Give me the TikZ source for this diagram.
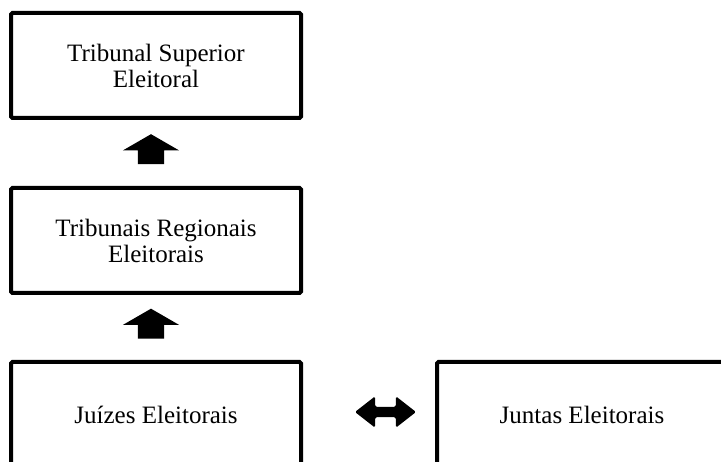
\documentclass[tikz,border=0pt]{standalone}
\usepackage{fontspec}
\setmainfont{Liberation Serif}
\usetikzlibrary{shapes.arrows,calc}

\begin{document}
\begin{tikzpicture}[
    x=1pt, y=-1pt,
    orgao/.style={rectangle, draw, line width=4pt, rounded corners=1.5pt, minimum width=290pt, minimum height=105pt, inner sep=0pt, align=center, font=\fontsize{25}{26}\selectfont},
    subida/.style={single arrow, fill=black, rotate=90, minimum height=30pt, inner xsep=0pt, inner ysep=13pt, single arrow head extend=15pt, single arrow tip angle=120},
    ligacao/.style={double arrow, fill=black, minimum height=61pt, inner xsep=0pt, inner ysep=5pt, double arrow head extend=10.5pt, double arrow tip angle=76, rounded corners=1.5pt}
]
\clip (0,0) rectangle (721,462);

% Orgaos
\node[orgao] (tse) at (156,65.5) {Tribunal Superior\\Eleitoral};
\node[orgao] (tre) at (156,240.5) {Tribunais Regionais\\Eleitorais};
\node[orgao] (juizes) at (156,414.5) {Juízes Eleitorais};
\node[orgao] (juntas) at (582,414.5) {Juntas Eleitorais};

% Setas
\node[subida, yshift=5pt] (seta_tre) at ($(tre.north)!0.5!(tse.south)$) {};
\node[subida, yshift=5pt] (seta_juizes) at ($(juizes.north)!0.5!(tre.south)$) {};
\node[ligacao] (seta_juntas) at (385.5,412) {};

\end{tikzpicture}
\end{document}
